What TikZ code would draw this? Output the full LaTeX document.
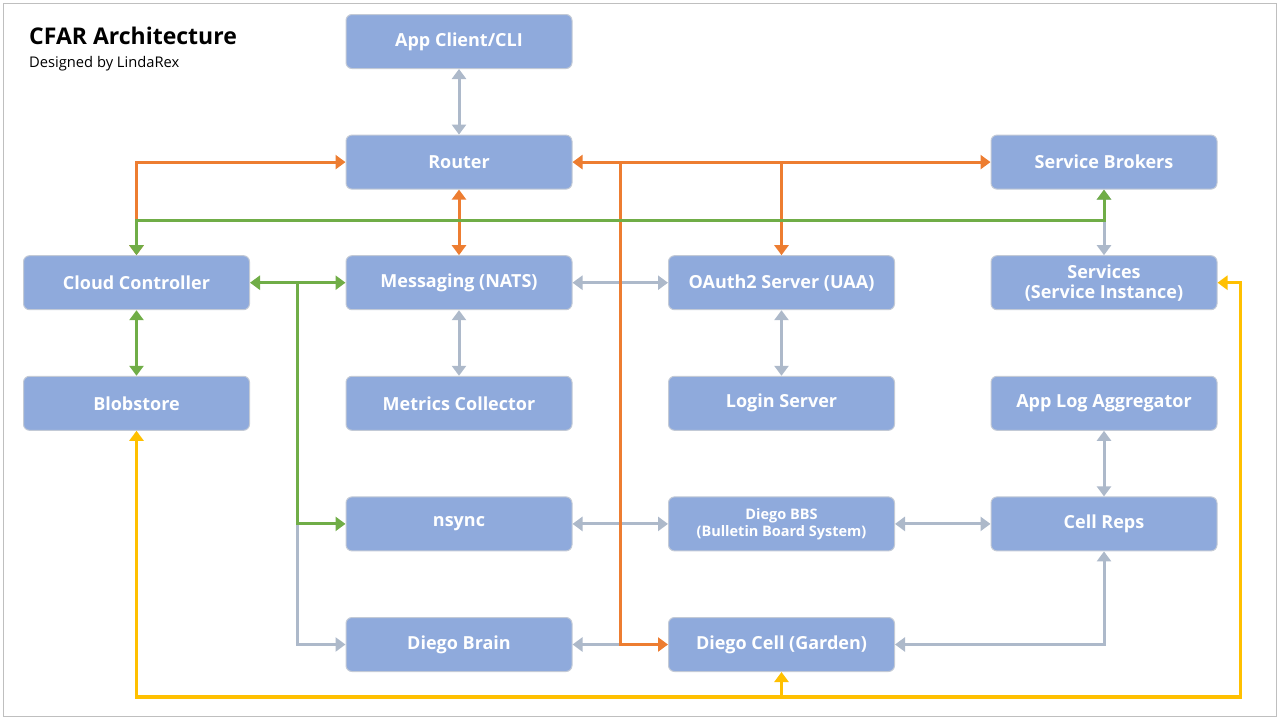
\documentclass[tikz,border=0pt]{standalone}
\usepackage{fontspec}
\setmainfont{Open Sans}
\usepackage{tikz}
\usetikzlibrary{positioning,arrows.meta,calc}

\definecolor{boxblue}{HTML}{8FAADC}
\definecolor{boxedge}{HTML}{C3CAD6}
\definecolor{framegray}{HTML}{BFBFBF}
\definecolor{linkgray}{HTML}{ADB9CA}
\definecolor{linkorange}{HTML}{ED7D31}
\definecolor{linkgreen}{HTML}{70AD47}
\definecolor{linkyellow}{HTML}{FFC000}

\begin{document}
\begin{tikzpicture}[
    x = 1pt, y = -1pt,
    node distance = 65.6pt and 95.5pt,
    box/.style = {draw=boxedge, line width=1pt, fill=boxblue, text=white, minimum width=226pt, minimum height=54pt, inner sep=2pt, rounded corners=6pt, align=center, font=\fontsize{18}{20}\selectfont\bfseries},
    smallbox/.style = {box, font=\fontsize{14.5}{17}\selectfont\bfseries},
    graylink/.style = {draw=linkgray, line width=3pt},
    orangelink/.style = {draw=linkorange, line width=3pt},
    greenlink/.style = {draw=linkgreen, line width=3pt},
    yellowlink/.style = {draw=linkyellow, line width=3.2pt},
    > = {Triangle[width=14pt,length=10pt]}
]
\useasboundingbox (0,0) rectangle (1280,720);
\draw[framegray, line width=1.2pt] (3.5,3.5) rectangle (1276.5,716.5);

% title
\node (title) [anchor=north west, inner sep=0pt, font=\fontsize{23}{26}\selectfont\bfseries] at (29,27) {CFAR Architecture};
\node (author) [inner sep=0pt, font=\fontsize{14.7}{17}\selectfont, below=11pt of title.south west, anchor=north west] {Designed by LindaRex};

% boxes
\node (app) [box] at (459,41.5) {App Client/CLI};
\node (router) [box, below=of app] {Router};
\node (msg) [box, below=of router] {Messaging (NATS)};
\node (metrics) [box, below=of msg] {Metrics Collector};
\node (nsync) [box, below=of metrics] {nsync};
\node (brain) [box, below=of nsync] {Diego Brain};
\node (cc) [box, left=of msg] {Cloud Controller};
\node (blob) [box, below=of cc] {Blobstore};
\node (oauth) [box, right=of msg] {OAuth2 Server (UAA)};
\node (login) [box, below=of oauth] {Login Server};
\node (bbs) [smallbox, below=of login] {Diego BBS\\(Bulletin Board System)};
\node (cell) [box, below=of bbs] {Diego Cell (Garden)};
\node (services) [box, right=of oauth] {Services\\(Service Instance)};
\node (brokers) [box, above=of services] {Service Brokers};
\node (logagg) [box, right=of login] {App Log Aggregator};
\node (reps) [box, below=of logagg] {Cell Reps};

% junctions
\coordinate (gbus) at ($(router.south)!0.5!(msg.north)+(0,-1.5)$);
\coordinate (ojoin) at ($(router.east)!0.5!(oauth.west |- router.east)$);
\coordinate (gjoin) at ($(cc.east)!0.5!(msg.west)$);
\coordinate (ybot) at ($(cell.south)+(0,25)$);
\coordinate (yright) at ($(services.east)+(23,0)$);

% gray links
\draw[graylink, <->] (app) to (router);
\draw[graylink, <->] (brokers) to (services);
\draw[graylink, <->] (msg) to (oauth);
\draw[graylink, <->] (msg) to (metrics);
\draw[graylink, <->] (oauth) to (login);
\draw[graylink, <->] (logagg) to (reps);
\draw[graylink, <->] (nsync) to (bbs);
\draw[graylink, <->] (bbs) to (reps);
\draw[graylink, <->] (reps.south) |- (cell.east);
\draw[graylink, ->] (gjoin |- nsync.west) |- (brain.west);
\draw[graylink, ->] (ojoin |- brain.east) to (brain.east);

% orange links
\draw[orangelink, <->] (router) to (msg);
\draw[orangelink, <->] (cc.north) |- (router.west);
\draw[orangelink, <->] (router) to (brokers);
\draw[orangelink, ->] (oauth.north |- router.east) to (oauth.north);
\draw[orangelink, ->] (ojoin) |- (cell.west);

% green links
\draw[greenlink, <->] (cc.north) |- (gbus) -| (brokers.south);
\draw[greenlink, <->] (cc) to (msg);
\draw[greenlink, <->] (cc) to (blob);
\draw[greenlink, ->] (gjoin) |- (nsync.west);

% yellow links
\draw[yellowlink, <->] (blob.south) |- (ybot) -| (yright) to (services.east);
\draw[yellowlink, ->] (ybot) to (cell.south);
\end{tikzpicture}
\end{document}
